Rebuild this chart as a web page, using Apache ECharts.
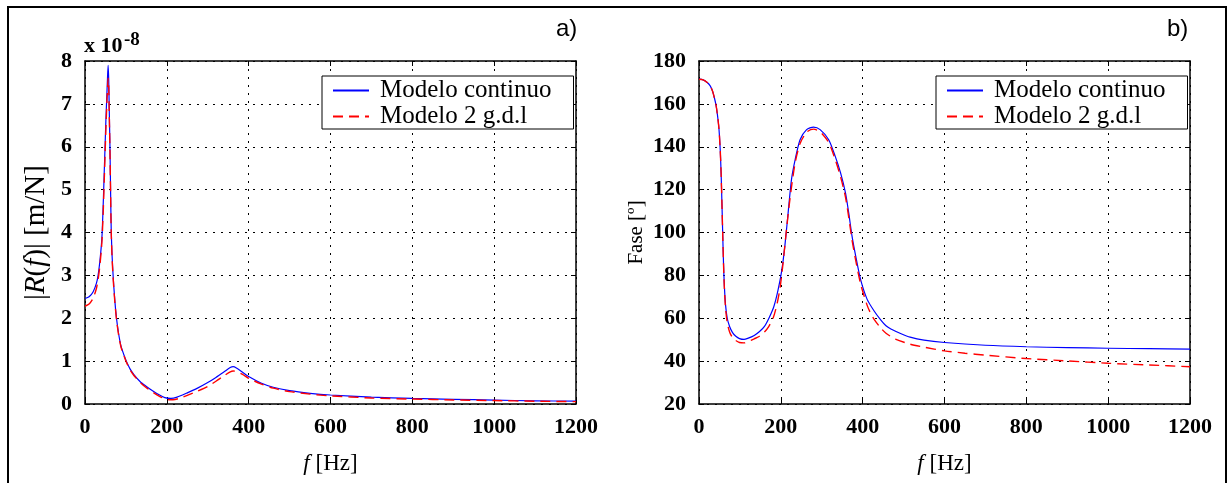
<!DOCTYPE html>
<html><head><meta charset="utf-8">
<script src="https://cdn.jsdelivr.net/npm/echarts@6/dist/echarts.min.js"></script>
<style>html,body{margin:0;padding:0;background:#fff}#c{width:1231px;height:483px}</style>
</head><body><div id="c"></div>
<script>
// ---- data ----
const xTicks = [0, 200, 400, 600, 800, 1000, 1200];
const magTicks = [0, 1, 2, 3, 4, 5, 6, 7, 8];
const phaseTicks = [20, 40, 60, 80, 100, 120, 140, 160, 180];
const seriesNames = ['Modelo continuo', 'Modelo 2 g.d.l'];

// |R(f)| in units of 1e-8 m/N
const fMagCont = [0,10,20,28,32,36,40,42,45,47,49,51,53,55,56.5,58,59,60,61,62.5,64,66,69,73,77,82,88,95,101,110,120,135,150,165,180,195,210,225,250,275,300,320,340,355,362,370,385,400,430,460,500,550,600,700,800,900,1000,1100,1200];
const magCont  = [2.46,2.5,2.62,2.82,3.0,3.3,3.7,4.0,4.8,5.4,6.0,6.6,7.1,7.6,7.9,7.55,7.0,6.5,6.0,5.0,4.1,3.5,2.95,2.4,2.0,1.65,1.35,1.15,1.0,0.82,0.68,0.52,0.41,0.31,0.22,0.15,0.13,0.16,0.26,0.37,0.5,0.62,0.75,0.85,0.87,0.84,0.74,0.64,0.49,0.39,0.31,0.25,0.21,0.16,0.13,0.11,0.09,0.075,0.065];
const fMag2 = [0,10,20,28,32,36,40,42,45,47,49,51,53,55,56.5,58,59,60,61,62.5,64,66,69,73,77,82,88,95,101,110,120,135,150,165,180,195,205,215,230,250,275,300,320,340,355,362,370,385,400,430,460,500,550,600,700,800,900,1000,1100,1200];
const mag2  = [2.28,2.33,2.47,2.7,2.9,3.2,3.6,3.9,4.6,5.2,5.8,6.4,6.9,7.35,7.6,7.4,6.9,6.4,5.9,4.95,4.05,3.45,2.9,2.37,1.97,1.62,1.33,1.13,0.98,0.8,0.66,0.5,0.38,0.28,0.19,0.12,0.1,0.1,0.13,0.2,0.3,0.41,0.53,0.66,0.75,0.77,0.76,0.69,0.6,0.47,0.37,0.29,0.23,0.19,0.14,0.115,0.095,0.08,0.065,0.055];

// phase in degrees
const fPhCont = [0,10,20,27,33,38,42,45,48,50,52,54,56,58,60,62,65,69,75,82,90,99,110,119,135,148,160,172,183,193,202,210,218,226,235,247,263,280,296,317,333,346,358,366,374,383,395,411,428,444,457,469,494,516,550,600,700,800,900,1000,1100,1200];
const phCont  = [171.5,171.2,170,168.5,166,162.5,159,155,150,145,138,128,114,99,85,75,66,60,56,53.3,51.6,50.5,50.1,50.6,52,53.8,56.2,60.5,65.5,73,82,94,109.5,124.7,134,143.3,148,149.2,148,143.3,135.5,127.8,118.5,109,98.3,89,78,68.8,63.4,59.3,56.5,55,52.8,51.2,49.8,48.7,47.4,46.7,46.3,46,45.8,45.6];
const fPh2 = [0,10,20,27,33,38,42,45,48,50,52,54,56,58,60,62,65,69,75,82,90,99,110,119,135,148,160,170,181,190,198,205,212,220,228,236,247,263,280,296,317,333,346,358,366,374,383,395,411,419,428,444,457,480,516,550,600,650,700,800,900,1000,1100,1200];
const ph2  = [171.5,171.2,170,168.5,166,162.5,159,155,150,145,138,128,114,99,85,74,64.5,58,53.5,51,49.6,48.7,48.5,49,50.4,51.6,53.6,56,60,66,74,85,98,112,124,133.5,141.5,146.8,148.2,147,142,134,126,116.5,107,96.5,87,76,66,62.5,59.5,55.5,53,50.3,47.9,46.5,44.8,43.7,42.8,41.2,40.1,39,38.2,37.4];

const zip = (xs, ys) => xs.map((x, i) => [x, ys[i]]);

// ---- styles ----
const serif = "'Liberation Serif','Times New Roman',serif";
const sans = "'Liberation Sans',Arial,sans-serif";
const BLUE = '#0000ff', RED = '#ff0000';
const tickFont = { fontFamily: serif, fontSize: 22, fontWeight: 'bold', color: '#000', formatter: v => String(v) };

function xAxis(grid, pos, main) {
  return {
    type: 'value', gridIndex: grid, position: pos,
    min: xTicks[0], max: xTicks[xTicks.length - 1], interval: xTicks[1] - xTicks[0],
    name: main ? '{i|f} [Hz]' : '', nameLocation: 'middle', nameGap: 48,
    nameTextStyle: { fontFamily: serif, fontSize: 23, color: '#000', rich: { i: { fontFamily: serif, fontSize: 23, fontStyle: 'italic', color: '#000' } } },
    axisLine: { show: true, onZero: false, lineStyle: { color: '#000', width: 1.5 } },
    axisTick: { show: true, inside: true, length: 5, lineStyle: { color: '#000', width: 1 } },
    axisLabel: { show: main, margin: 12, ...tickFont },
    splitLine: { show: main, lineStyle: { color: '#000', width: 1, type: [2, 6] } }
  };
}
function yAxis(grid, pos, main, ticks, name, nameGap, nameSize) {
  return {
    type: 'value', gridIndex: grid, position: pos,
    min: ticks[0], max: ticks[ticks.length - 1], interval: ticks[1] - ticks[0],
    name: main ? name : '', nameLocation: 'middle', nameGap: nameGap,
    nameTextStyle: { fontFamily: serif, fontSize: nameSize, color: '#000', rich: { i: { fontFamily: serif, fontSize: nameSize, fontStyle: 'italic', color: '#000' }, n: { fontFamily: serif, fontSize: nameSize, color: '#000' } } },
    axisLine: { show: true, onZero: false, lineStyle: { color: '#000', width: 1.5 } },
    axisTick: { show: true, inside: true, length: 5, lineStyle: { color: '#000', width: 1 } },
    axisLabel: { show: main, margin: 13, ...tickFont },
    splitLine: { show: main, lineStyle: { color: '#000', width: 1, type: [2, 6] } }
  };
}
function legend(left) {
  return {
    left: left, top: 76, orient: 'vertical', data: seriesNames,
    itemWidth: 36, itemHeight: 12, itemGap: 1,
    padding: [2, 22, 0, 10],
    borderColor: '#000', borderWidth: 1, backgroundColor: '#fff',
    selectedMode: false,
    itemStyle: { color: 'transparent', borderWidth: 0, opacity: 0 },
    textStyle: { fontFamily: serif, fontSize: 25, lineHeight: 24, color: '#000', padding: [0, 0, 0, 6] }
  };
}
function line(name, data, xi, yi, color, dashed) {
  return {
    type: 'line', name: name, xAxisIndex: xi, yAxisIndex: yi, data: data,
    symbol: 'none', smooth: 0.25, animation: false,
    itemStyle: { color: color },
    lineStyle: { color: color, width: dashed ? 1.4 : 1.2, type: dashed ? [10, 6] : 'solid' },
    z: dashed ? 3 : 2
  };
}

const chart = echarts.init(document.getElementById('c'), null, { renderer: 'canvas' });
chart.setOption({
  backgroundColor: '#fff',
  animation: false,
  grid: [
    { left: 85, top: 61, width: 491, height: 343 },
    { left: 699, top: 61, width: 491, height: 343 }
  ],
  xAxis: [xAxis(0, 'bottom', true), xAxis(0, 'top', false), xAxis(1, 'bottom', true), xAxis(1, 'top', false)],
  yAxis: [
    yAxis(0, 'left', true, magTicks, '{n||}{i|R}{n|(}{i|f}{n|)|} [m/N]', 34, 29),
    yAxis(0, 'right', false, magTicks, '', 0, 20),
    yAxis(1, 'left', true, phaseTicks, 'Fase [º]', 52, 21),
    yAxis(1, 'right', false, phaseTicks, '', 0, 20)
  ],
  legend: [legend(322), legend(936)],
  series: [
    line(seriesNames[0], zip(fMagCont, magCont), 0, 0, BLUE, false),
    line(seriesNames[1], zip(fMag2, mag2), 0, 0, RED, true),
    line(seriesNames[0], zip(fPhCont, phCont), 2, 2, BLUE, false),
    line(seriesNames[1], zip(fPh2, ph2), 2, 2, RED, true)
  ],
  graphic: [
    { type: 'rect', shape: { x: 8, y: 7, width: 1218, height: 520 }, style: { fill: 'none', stroke: '#000', lineWidth: 2 }, silent: true, z: 100 },
    { type: 'text', left: 84, top: 35, style: { text: 'x 10', font: 'bold 22px ' + serif, fill: '#000' } },
    { type: 'text', left: 124, top: 31, style: { text: '-8', font: 'bold 19px ' + serif, fill: '#000' } },
    { type: 'text', left: 556, top: 17, style: { text: 'a)', font: '24px ' + sans, fill: '#000' } },
    { type: 'text', left: 1167, top: 17, style: { text: 'b)', font: '24px ' + sans, fill: '#000' } }
  ]
});
</script></body></html>
